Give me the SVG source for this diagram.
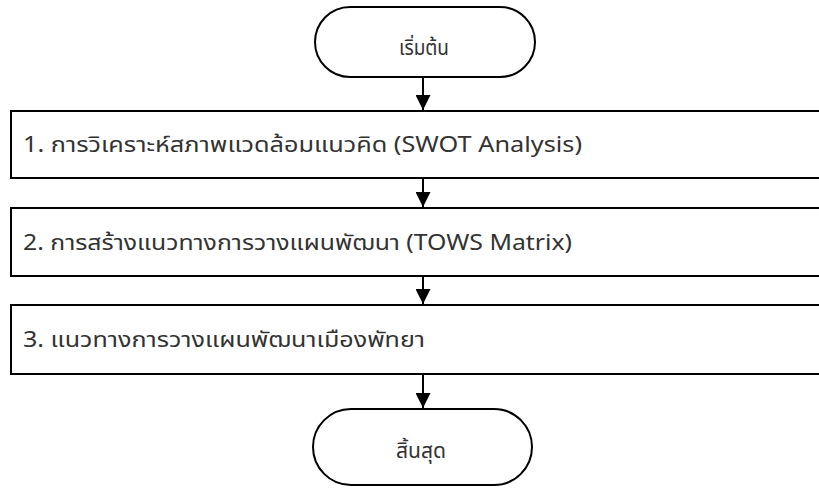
<svg xmlns="http://www.w3.org/2000/svg" width="819" height="488" viewBox="0 0 819 488">
<style>
.shape{fill:#fff;stroke:#000;stroke-width:2}
.t{font-family:"Noto Sans Thai","Noto Sans","Liberation Sans",sans-serif;font-size:22px;fill:#333}
.s{font-size:21px}
.conn{stroke:#000;stroke-width:2;fill:none}
</style>
<defs>
<marker id="ah" viewBox="0 0 15 15" refX="15" refY="7.5" markerWidth="15" markerHeight="15" markerUnits="userSpaceOnUse" orient="auto">
<path d="M0,0 L15,7.5 L0,15 z" fill="#000"/>
</marker>
</defs>
<rect width="819" height="488" fill="#fff"/>
<g id="start">
<rect class="shape" x="315" y="7" width="220" height="70" rx="35" ry="35"/>
<text class="t s" x="399" y="55" textLength="50" lengthAdjust="spacingAndGlyphs">เริ่มต้น</text>
</g>
<g id="step1">
<rect class="shape" x="11" y="111" width="820" height="67"/>
<text class="t" x="23" y="152" textLength="559" lengthAdjust="spacingAndGlyphs">1. การวิเคราะห์สภาพแวดล้อมแนวคิด (SWOT Analysis)</text>
</g>
<g id="step2">
<rect class="shape" x="11" y="208" width="820" height="68"/>
<text class="t" x="23" y="250" textLength="549" lengthAdjust="spacingAndGlyphs">2. การสร้างแนวทางการวางแผนพัฒนา (TOWS Matrix)</text>
</g>
<g id="step3">
<rect class="shape" x="11" y="305" width="820" height="69"/>
<text class="t" x="23" y="347" textLength="402" lengthAdjust="spacingAndGlyphs">3. แนวทางการวางแผนพัฒนาเมืองพัทยา</text>
</g>
<g id="end">
<rect class="shape" x="313" y="409" width="219" height="76" rx="38" ry="38"/>
<text class="t s" x="396" y="458" textLength="50" lengthAdjust="spacingAndGlyphs">สิ้นสุด</text>
</g>
<g id="connectors">
<line class="conn" x1="423" y1="77" x2="423" y2="110" marker-end="url(#ah)"/>
<line class="conn" x1="423" y1="178" x2="423" y2="207" marker-end="url(#ah)"/>
<line class="conn" x1="423" y1="276" x2="423" y2="304" marker-end="url(#ah)"/>
<line class="conn" x1="423" y1="374" x2="423" y2="408" marker-end="url(#ah)"/>
</g>
</svg>
